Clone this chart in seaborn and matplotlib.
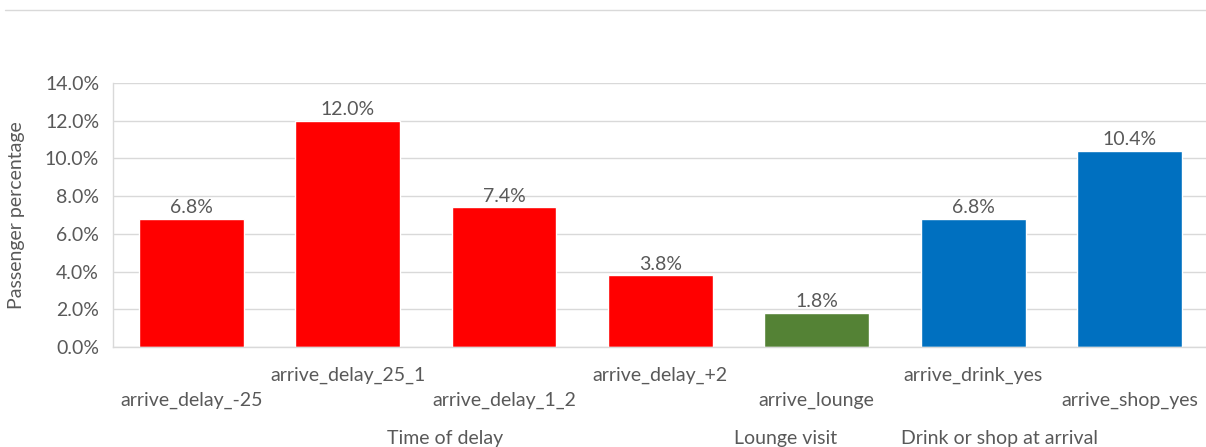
import matplotlib
matplotlib.use("Agg")
import matplotlib.pyplot as plt
from matplotlib.lines import Line2D
from matplotlib.ticker import PercentFormatter, MultipleLocator
import seaborn as sns
import pandas as pd

# Share of passengers per arrival behaviour
categories = ["arrive_delay_-25", "arrive_delay_25_1", "arrive_delay_1_2",
              "arrive_delay_+2", "arrive_lounge", "arrive_drink_yes", "arrive_shop_yes"]
values = [6.8, 12.0, 7.4, 3.8, 1.8, 6.8, 10.4]
groups = ["Time of delay", "Time of delay", "Time of delay", "Time of delay",
          "Lounge visit", "Drink or shop at arrival", "Drink or shop at arrival"]
group_colors = {"Time of delay": "#FF0000",
                "Lounge visit": "#548235",
                "Drink or shop at arrival": "#0070C0"}
group_label_x = {"Time of delay": 1.62, "Lounge visit": 3.80,
                 "Drink or shop at arrival": 5.17}

df = pd.DataFrame({"category": categories, "value": values, "group": groups})

sns.set_style("white")
plt.rcParams["font.family"] = ["Lato", "DejaVu Sans"]
text_color = "#595959"
fs = 14

fig = plt.figure(figsize=(12.06, 4.47), dpi=100)
ax = fig.add_axes([0.0937, 0.2237, 0.9078, 0.5906])

sns.barplot(data=df, x="category", y="value", hue="group", palette=group_colors,
            dodge=False, width=0.67, legend=False, order=categories, ax=ax,
            saturation=1)

ax.set_ylim(0, 14)
ax.yaxis.set_major_locator(MultipleLocator(2))
ax.yaxis.set_major_formatter(PercentFormatter(decimals=1))
ax.grid(axis="y", color="#d9d9d9", linewidth=1)
ax.set_axisbelow(True)
for side in ["top", "right"]:
    ax.spines[side].set_visible(False)
for side in ["left", "bottom"]:
    ax.spines[side].set_color("#d9d9d9")
    ax.spines[side].set_linewidth(1)
ax.set_xlim(-0.5, 6.5)

ax.tick_params(axis="both", length=0, labelsize=fs, labelcolor=text_color)
ax.tick_params(axis="y", pad=10)
ax.set_xlabel("")
ax.set_ylabel("Passenger percentage", fontsize=fs, color=text_color, labelpad=14)

# staggered category labels
for i, tick in enumerate(ax.xaxis.get_major_ticks()):
    tick.set_pad(14 if i % 2 == 1 else 32)

# value labels above bars
for container in ax.containers:
    ax.bar_label(container, labels=[f"{v:.1f}%" for v in container.datavalues],
                 padding=2, fontsize=fs, color=text_color)

# group captions under the category labels
for name, xpos in group_label_x.items():
    ax.text(xpos, -0.345, name, transform=ax.get_xaxis_transform(),
            ha="center", va="center", fontsize=fs, color=text_color)

fig.add_artist(Line2D([0.004, 1.0], [1 - 10 / 447, 1 - 10 / 447],
                      color="#d9d9d9", linewidth=1, transform=fig.transFigure))

fig.savefig("out.png", dpi=100)
